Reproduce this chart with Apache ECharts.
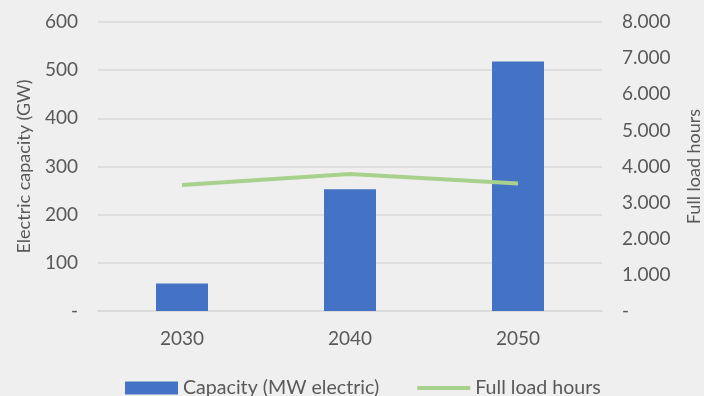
<!DOCTYPE html>
<html>
<head>
<meta charset="utf-8">
<script src="https://cdn.jsdelivr.net/npm/echarts@6/dist/echarts.min.js"></script>
<style>
  html, body { margin: 0; padding: 0; background: #efefef; }
  #chart { width: 704px; height: 396px; }
</style>
</head>
<body>
<div id="chart"></div>
<script>
// Installed capacity and full load hours per scenario year
const years = ['2030', '2040', '2050'];
const capacity = [57, 253, 518];
const fullLoadHours = [3490, 3790, 3530];

const textColor = '#595959';
const fontFamily = 'Lato, "Open Sans", sans-serif';

function thousandsDot(v) {
  if (v === 0) return '-';
  return String(v).replace(/\B(?=(\d{3})+(?!\d))/g, '.');
}

const chart = echarts.init(document.getElementById('chart'));
chart.setOption({
  backgroundColor: '#efefef',
  animation: false,
  textStyle: { fontFamily: fontFamily, color: textColor },
  grid: { left: 98, right: 102, top: 22, bottom: 85, containLabel: false, outerBoundsMode: 'none' },
  legend: {
    left: 120,
    top: 373,
    itemWidth: 53,
    itemHeight: 13,
    itemGap: 36,
    textStyle: { fontSize: 19.6, color: textColor, fontFamily: fontFamily },
    data: [
      { name: 'Capacity (MW electric)', icon: 'rect' },
      { name: 'Full load hours', itemStyle: { opacity: 0 }, lineStyle: { width: 4, color: '#a9d18e' } }
    ]
  },
  xAxis: {
    type: 'category',
    data: years,
    axisLine: { lineStyle: { color: '#d9d9d9', width: 1.5 } },
    axisTick: { show: false },
    axisLabel: { fontSize: 19, color: textColor, margin: 18, fontFamily: fontFamily }
  },
  yAxis: [
    {
      type: 'value',
      min: 0, max: 600, interval: 100,
      name: 'Electric capacity (GW)',
      nameLocation: 'middle',
      nameRotate: 90,
      nameGap: 65,
      nameTextStyle: { fontSize: 18, color: textColor, fontFamily: fontFamily },
      axisLine: { show: false },
      axisTick: { show: false },
      axisLabel: {
        fontSize: 19, color: textColor, margin: 20, fontFamily: fontFamily,
        formatter: v => v === 0 ? '-' : String(v)
      },
      splitLine: { lineStyle: { color: '#d9d9d9', width: 1.5 } }
    },
    {
      type: 'value',
      min: 0, max: 8000, interval: 1000,
      name: 'Full load hours',
      nameLocation: 'middle',
      nameRotate: 90,
      nameGap: 83,
      nameTextStyle: { fontSize: 18, color: textColor, fontFamily: fontFamily },
      axisLine: { show: false },
      axisTick: { show: false },
      axisLabel: {
        fontSize: 19, color: textColor, margin: 20, fontFamily: fontFamily,
        formatter: thousandsDot
      },
      splitLine: { show: false }
    }
  ],
  series: [
    {
      name: 'Capacity (MW electric)',
      type: 'bar',
      yAxisIndex: 0,
      data: capacity,
      barWidth: 52,
      itemStyle: { color: '#4472c4' }
    },
    {
      name: 'Full load hours',
      type: 'line',
      yAxisIndex: 1,
      data: fullLoadHours,
      symbol: 'none',
      lineStyle: { color: '#a9d18e', width: 4 },
      itemStyle: { color: '#a9d18e' }
    }
  ]
});
</script>
</body>
</html>
